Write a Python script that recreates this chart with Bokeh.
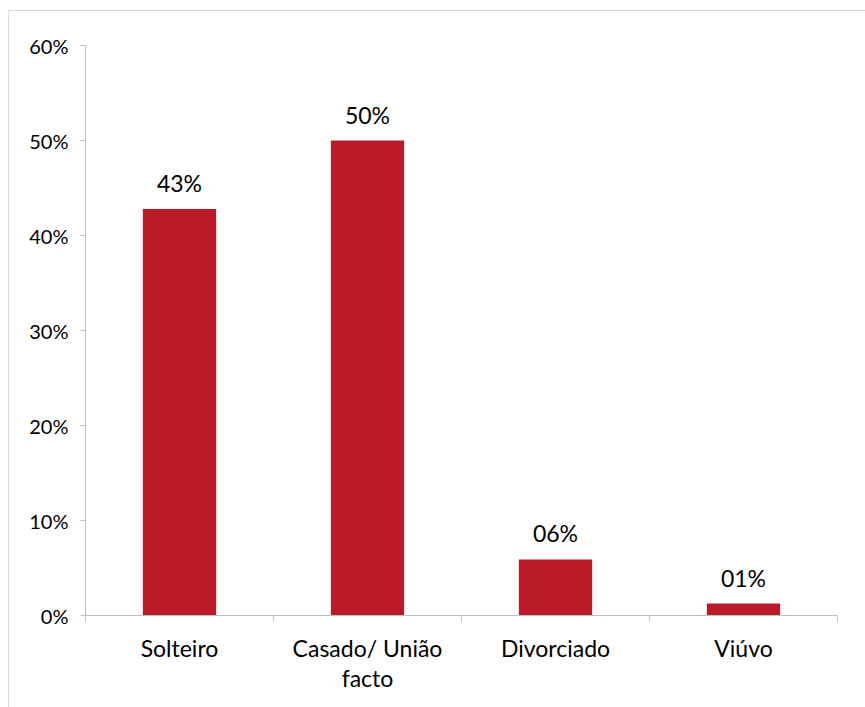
from bokeh.plotting import figure
from bokeh.models import Range1d, FixedTicker, NumeralTickFormatter, ColumnDataSource
from bokeh.core.properties import value
from bokeh.embed import file_html
from bokeh.resources import INLINE

categories = ["Solteiro", "Casado/ União\nfacto", "Divorciado", "Viúvo"]
shares = [0.428, 0.50, 0.059, 0.0126]
y_ticks = [0, 0.1, 0.2, 0.3, 0.4, 0.5, 0.6]

FONT = "Lato"
BAR = "#BB1B29"
AXIS = "#BFBFBF"

xs = [i + 0.5 for i in range(len(categories))]
labels = [f"{round(v * 100):02d}%" for v in shares]
src = ColumnDataSource(dict(x=xs, top=shares, label=labels))

p = figure(width=857, height=697, output_backend="svg", toolbar_location=None,
           x_range=Range1d(0, len(categories)), y_range=Range1d(0, 0.6),
           min_border_left=76, min_border_right=29, min_border_top=34, min_border_bottom=93)
p.styles = {"margin-left": "8px", "margin-top": "10px",
            "border-top": "1px solid #D9D9D9", "border-left": "1px solid #D9D9D9"}
p.outline_line_color = None
p.grid.visible = False
p.background_fill_color = "white"
p.border_fill_color = "white"

p.vbar(x="x", top="top", width=0.39, bottom=0, source=src, fill_color=BAR, line_color=None)
p.text(x="x", y="top", text="label", source=src, text_align="center", text_baseline="bottom",
       y_offset=-12, text_font=value(FONT), text_font_size="23px", text_color="black")

# x axis: labels at centers, tick marks at category boundaries
xt = FixedTicker(ticks=xs, minor_ticks=list(range(len(categories) + 1)))
p.xaxis.ticker = xt
p.xaxis.major_label_overrides = {x: c for x, c in zip(xs, categories)}
p.xaxis.major_tick_out = 0
p.xaxis.major_tick_in = 0
p.xaxis.minor_tick_out = 6
p.xaxis.minor_tick_in = 0
p.xaxis.minor_tick_line_color = AXIS
p.xaxis.axis_line_color = AXIS
p.xaxis.major_label_text_font = FONT
p.xaxis.major_label_text_font_size = "23px"
p.xaxis.major_label_text_color = "black"
p.xaxis.major_label_standoff = 12
p.xaxis.major_label_text_line_height = 1.08

p.yaxis.ticker = FixedTicker(ticks=y_ticks, minor_ticks=[])
p.yaxis.formatter = NumeralTickFormatter(format="0%")
p.yaxis.major_tick_out = 5
p.yaxis.major_tick_in = 0
p.yaxis.major_tick_line_color = AXIS
p.yaxis.axis_line_color = AXIS
p.yaxis.major_label_text_font = FONT
p.yaxis.major_label_text_font_size = "20px"
p.yaxis.major_label_text_color = "black"
p.yaxis.major_label_standoff = 12

open("out.html", "w").write(file_html(p, INLINE))
